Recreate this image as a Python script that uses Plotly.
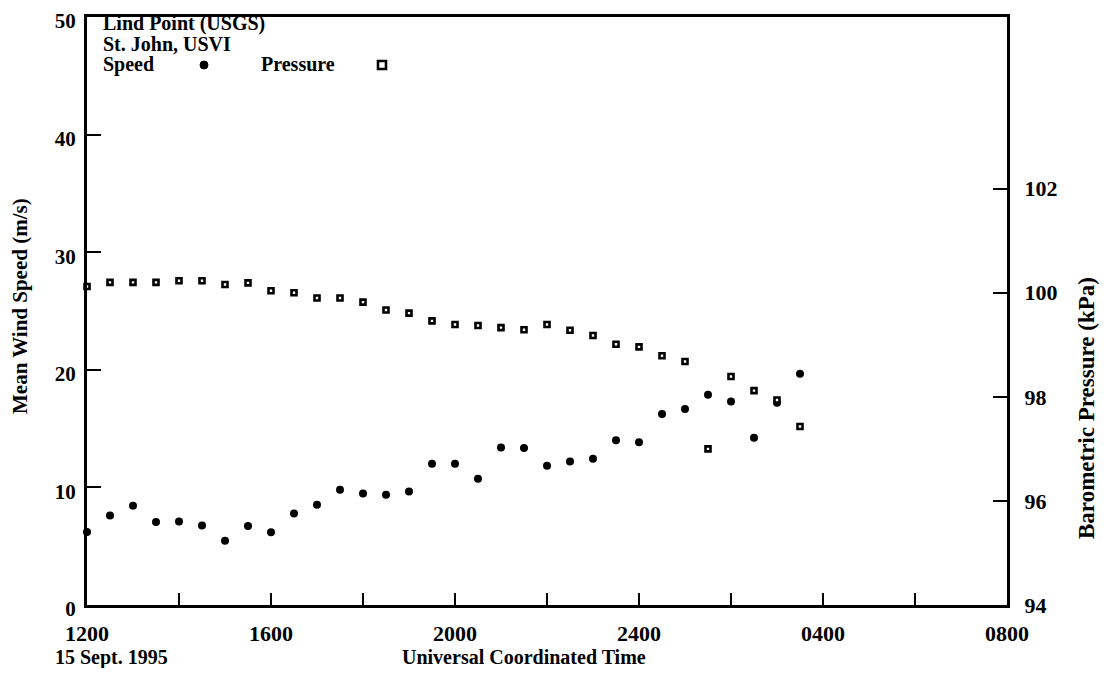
import plotly.graph_objects as go

# ---------------- data ----------------
hours_since_1200 = [0, 0.5, 1, 1.5, 2, 2.5, 3, 3.5, 4, 4.5, 5, 5.5, 6, 6.5, 7, 7.5,
                    8, 8.5, 9, 9.5, 10, 10.5, 11, 11.5, 12, 12.5, 13, 13.5, 14, 14.5, 15, 15.5]
speed_ms = [6.21, 7.60, 8.45, 7.06, 7.11, 6.77, 5.47, 6.72, 6.18, 7.79, 8.53, 9.81,
            9.49, 9.38, 9.66, 12.02, 12.02, 10.74, 13.40, 13.35, 11.85, 12.21, 12.44,
            14.00, 13.83, 16.24, 16.66, 17.88, 17.31, 14.22, 17.20, 19.66]
pressure_kpa = [100.12, 100.20, 100.20, 100.20, 100.23, 100.23, 100.16, 100.19, 100.04,
                100.00, 99.90, 99.90, 99.82, 99.67, 99.61, 99.46, 99.39, 99.37, 99.33,
                99.29, 99.39, 99.28, 99.18, 99.01, 98.96, 98.79, 98.68, 97.00, 98.39,
                98.12, 97.94, 97.43]
x_tickvals = [0, 2, 4, 6, 8, 10, 12, 14, 16, 18, 20]
x_ticktext = ["1200", "", "1600", "", "2000", "", "2400", "", "0400", "", "0800"]
speed_ticks = [0, 10, 20, 30, 40, 50]
pressure_ticks = [94, 96, 98, 100, 102]

# ---------------- layout geometry (page pixels; page body has 8px margin) ----------------
OFF = 8
W, H = 1093, 660
PLOT_L, PLOT_R, PLOT_T, PLOT_B = 87, 1007, 17, 605      # page coordinates of the plot box
L, T = PLOT_L - OFF, PLOT_T - OFF
R = W - (PLOT_R - OFF)
B = H - (PLOT_B - OFF)
PW, PH = PLOT_R - PLOT_L, PLOT_B - PLOT_T
FONT = "Liberation Serif, Times New Roman, serif"


def px(x):
    return (x - PLOT_L) / PW


def py(y):
    return (PLOT_B - y) / PH


fig = go.Figure()
fig.add_trace(go.Scatter(
    x=hours_since_1200, y=speed_ms, mode="markers", name="Speed",
    marker=dict(symbol="circle", size=8, color="black"),
    cliponaxis=False, showlegend=False))
fig.add_trace(go.Scatter(
    x=hours_since_1200, y=pressure_kpa, mode="markers", name="Pressure", yaxis="y2",
    marker=dict(symbol="square", size=5, color="white", line=dict(color="black", width=2.6)),
    cliponaxis=False, showlegend=False))

axis_common = dict(showgrid=False, zeroline=False, showline=True, linecolor="black",
                   linewidth=3, ticks="inside", tickcolor="black", tickwidth=2,
                   automargin=False, ticklabeloverflow="allow")
tick_font = dict(family=FONT, size=22, color="black", weight="bold")

fig.update_layout(
    width=W, height=H,
    margin=dict(l=L, r=R, t=T, b=B),
    paper_bgcolor="white", plot_bgcolor="white",
    font=dict(family=FONT, size=22, color="black"),
    xaxis=dict(range=[0, 20], tickvals=x_tickvals, ticktext=x_ticktext,
               ticklen=12, mirror=True, ticklabelstandoff=7, tickfont=tick_font,
               **axis_common),
    yaxis=dict(range=[0, 50], tickvals=speed_ticks, ticklen=14,
               ticklabelstandoff=4, ticklabelshift=4,
               tickfont=dict(family=FONT, size=21, color="black", weight="bold"),
               **axis_common),
    yaxis2=dict(range=[94, 105.3], tickvals=pressure_ticks, overlaying="y",
                side="right", ticklen=14, ticklabelstandoff=10, tickfont=tick_font,
                **axis_common),
)

annots = [
    dict(text="Lind Point (USGS)", x=px(101), y=py(24), xanchor="left"),
    dict(text="St. John, USVI", x=px(101), y=py(44), xanchor="left"),
    dict(text="Speed", x=px(101), y=py(64), xanchor="left"),
    dict(text="Pressure", x=px(259), y=py(64), xanchor="left"),
    dict(text="15 Sept. 1995", x=px(53), y=py(657), xanchor="left"),
    dict(text="Universal Coordinated Time", x=px(524), y=py(657), xanchor="center"),
    dict(text="Mean Wind Speed (m/s)", x=px(20), y=py(306), xanchor="center",
         textangle=-90, font=dict(family=FONT, size=21, color="black", weight="bold")),
    dict(text="Barometric Pressure (kPa)", x=px(1086), y=py(408), xanchor="center",
         textangle=-90, font=dict(family=FONT, size=23, color="black", weight="bold")),
]
for a in annots:
    a.setdefault("font", dict(family=FONT, size=20, color="black", weight="bold"))
    fig.add_annotation(xref="paper", yref="paper", showarrow=False, yanchor="middle", **a)

# legend markers drawn after the text
fig.add_shape(type="circle", xref="paper", yref="paper",
              x0=px(200), x1=px(208), y0=py(61), y1=py(69),
              fillcolor="black", line=dict(color="black", width=1))
fig.add_shape(type="rect", xref="paper", yref="paper",
              x0=px(378), x1=px(386), y0=py(61), y1=py(69),
              fillcolor="white", line=dict(color="black", width=2.6))

fig.write_html("out.html")
